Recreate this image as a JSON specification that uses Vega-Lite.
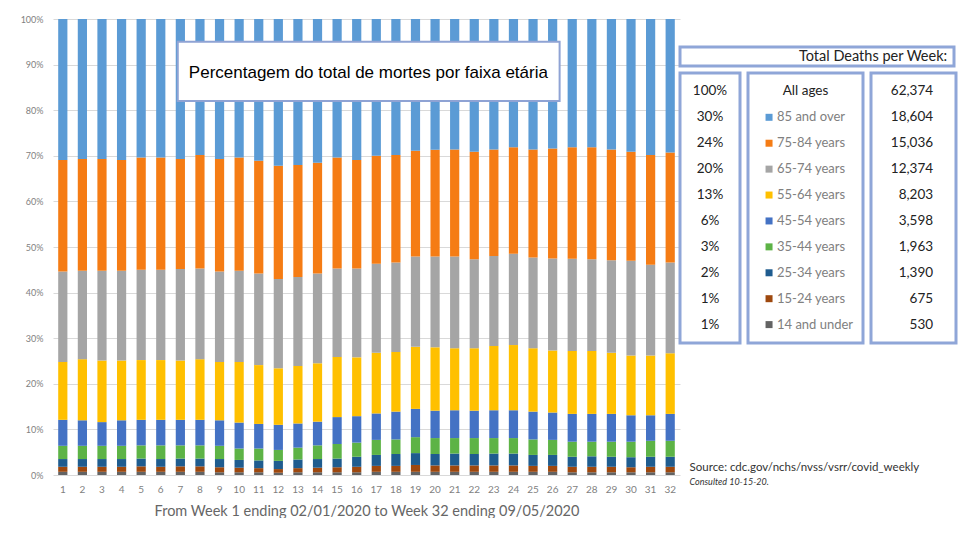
{
"$schema": "https://vega.github.io/schema/vega-lite/v6.json",
"padding": {"left": 20, "top": 15, "right": 0, "bottom": 0},
"background": "white",
"config": {"view": {"stroke": null}, "font": "Lato"},
"spacing": -2,
"datasets": {
"bars": [
{"w":1,"g":"14 and under","v":0.7},{"w":1,"g":"15-24 years","v":1.1},{"w":1,"g":"25-34 years","v":1.7},{"w":1,"g":"35-44 years","v":2.9},{"w":1,"g":"45-54 years","v":5.7},{"w":1,"g":"55-64 years","v":12.7},{"w":1,"g":"65-74 years","v":19.8},{"w":1,"g":"75-84 years","v":24.5},{"w":1,"g":"85 and over","v":30.9},
{"w":2,"g":"14 and under","v":0.7},{"w":2,"g":"15-24 years","v":1.1},{"w":2,"g":"25-34 years","v":1.7},{"w":2,"g":"35-44 years","v":2.9},{"w":2,"g":"45-54 years","v":5.6},{"w":2,"g":"55-64 years","v":13.4},{"w":2,"g":"65-74 years","v":19.4},{"w":2,"g":"75-84 years","v":24.5},{"w":2,"g":"85 and over","v":30.7},
{"w":3,"g":"14 and under","v":0.7},{"w":3,"g":"15-24 years","v":1.1},{"w":3,"g":"25-34 years","v":1.7},{"w":3,"g":"35-44 years","v":2.9},{"w":3,"g":"45-54 years","v":5.2},{"w":3,"g":"55-64 years","v":13.5},{"w":3,"g":"65-74 years","v":19.7},{"w":3,"g":"75-84 years","v":24.5},{"w":3,"g":"85 and over","v":30.7},
{"w":4,"g":"14 and under","v":0.7},{"w":4,"g":"15-24 years","v":1.1},{"w":4,"g":"25-34 years","v":1.7},{"w":4,"g":"35-44 years","v":2.9},{"w":4,"g":"45-54 years","v":5.6},{"w":4,"g":"55-64 years","v":13.1},{"w":4,"g":"65-74 years","v":19.7},{"w":4,"g":"75-84 years","v":24.3},{"w":4,"g":"85 and over","v":30.9},
{"w":5,"g":"14 and under","v":0.7},{"w":5,"g":"15-24 years","v":1.2},{"w":5,"g":"25-34 years","v":1.7},{"w":5,"g":"35-44 years","v":2.9},{"w":5,"g":"45-54 years","v":5.6},{"w":5,"g":"55-64 years","v":13.1},{"w":5,"g":"65-74 years","v":19.8},{"w":5,"g":"75-84 years","v":24.6},{"w":5,"g":"85 and over","v":30.4},
{"w":6,"g":"14 and under","v":0.7},{"w":6,"g":"15-24 years","v":1.1},{"w":6,"g":"25-34 years","v":1.7},{"w":6,"g":"35-44 years","v":3.0},{"w":6,"g":"45-54 years","v":5.6},{"w":6,"g":"55-64 years","v":13.1},{"w":6,"g":"65-74 years","v":19.8},{"w":6,"g":"75-84 years","v":24.6},{"w":6,"g":"85 and over","v":30.4},
{"w":7,"g":"14 and under","v":0.7},{"w":7,"g":"15-24 years","v":1.2},{"w":7,"g":"25-34 years","v":1.7},{"w":7,"g":"35-44 years","v":2.9},{"w":7,"g":"45-54 years","v":5.6},{"w":7,"g":"55-64 years","v":13.0},{"w":7,"g":"65-74 years","v":20.1},{"w":7,"g":"75-84 years","v":24.1},{"w":7,"g":"85 and over","v":30.7},
{"w":8,"g":"14 and under","v":0.7},{"w":8,"g":"15-24 years","v":1.2},{"w":8,"g":"25-34 years","v":1.7},{"w":8,"g":"35-44 years","v":2.9},{"w":8,"g":"45-54 years","v":5.6},{"w":8,"g":"55-64 years","v":13.3},{"w":8,"g":"65-74 years","v":19.9},{"w":8,"g":"75-84 years","v":24.9},{"w":8,"g":"85 and over","v":29.8},
{"w":9,"g":"14 and under","v":0.6},{"w":9,"g":"15-24 years","v":1.1},{"w":9,"g":"25-34 years","v":1.8},{"w":9,"g":"35-44 years","v":2.9},{"w":9,"g":"45-54 years","v":5.6},{"w":9,"g":"55-64 years","v":12.8},{"w":9,"g":"65-74 years","v":19.8},{"w":9,"g":"75-84 years","v":24.7},{"w":9,"g":"85 and over","v":30.7},
{"w":10,"g":"14 and under","v":0.6},{"w":10,"g":"15-24 years","v":1.0},{"w":10,"g":"25-34 years","v":1.7},{"w":10,"g":"35-44 years","v":2.5},{"w":10,"g":"45-54 years","v":5.7},{"w":10,"g":"55-64 years","v":13.3},{"w":10,"g":"65-74 years","v":20.0},{"w":10,"g":"75-84 years","v":24.8},{"w":10,"g":"85 and over","v":30.4},
{"w":11,"g":"14 and under","v":0.6},{"w":11,"g":"15-24 years","v":0.9},{"w":11,"g":"25-34 years","v":1.7},{"w":11,"g":"35-44 years","v":2.6},{"w":11,"g":"45-54 years","v":5.4},{"w":11,"g":"55-64 years","v":12.9},{"w":11,"g":"65-74 years","v":20.1},{"w":11,"g":"75-84 years","v":24.7},{"w":11,"g":"85 and over","v":31.1},
{"w":12,"g":"14 and under","v":0.5},{"w":12,"g":"15-24 years","v":0.8},{"w":12,"g":"25-34 years","v":1.8},{"w":12,"g":"35-44 years","v":2.4},{"w":12,"g":"45-54 years","v":5.5},{"w":12,"g":"55-64 years","v":12.4},{"w":12,"g":"65-74 years","v":19.6},{"w":12,"g":"75-84 years","v":24.8},{"w":12,"g":"85 and over","v":32.2},
{"w":13,"g":"14 and under","v":0.6},{"w":13,"g":"15-24 years","v":0.9},{"w":13,"g":"25-34 years","v":1.9},{"w":13,"g":"35-44 years","v":2.6},{"w":13,"g":"45-54 years","v":5.3},{"w":13,"g":"55-64 years","v":12.6},{"w":13,"g":"65-74 years","v":19.5},{"w":13,"g":"75-84 years","v":24.6},{"w":13,"g":"85 and over","v":32.0},
{"w":14,"g":"14 and under","v":0.6},{"w":14,"g":"15-24 years","v":1.0},{"w":14,"g":"25-34 years","v":1.9},{"w":14,"g":"35-44 years","v":3.0},{"w":14,"g":"45-54 years","v":5.2},{"w":14,"g":"55-64 years","v":12.8},{"w":14,"g":"65-74 years","v":19.7},{"w":14,"g":"75-84 years","v":24.3},{"w":14,"g":"85 and over","v":31.5},
{"w":15,"g":"14 and under","v":0.6},{"w":15,"g":"15-24 years","v":1.1},{"w":15,"g":"25-34 years","v":1.9},{"w":15,"g":"35-44 years","v":3.2},{"w":15,"g":"45-54 years","v":5.9},{"w":15,"g":"55-64 years","v":13.2},{"w":15,"g":"65-74 years","v":19.4},{"w":15,"g":"75-84 years","v":24.3},{"w":15,"g":"85 and over","v":30.4},
{"w":16,"g":"14 and under","v":0.6},{"w":16,"g":"15-24 years","v":1.2},{"w":16,"g":"25-34 years","v":2.2},{"w":16,"g":"35-44 years","v":3.1},{"w":16,"g":"45-54 years","v":5.8},{"w":16,"g":"55-64 years","v":12.9},{"w":16,"g":"65-74 years","v":19.5},{"w":16,"g":"75-84 years","v":23.8},{"w":16,"g":"85 and over","v":30.9},
{"w":17,"g":"14 and under","v":0.7},{"w":17,"g":"15-24 years","v":1.3},{"w":17,"g":"25-34 years","v":2.4},{"w":17,"g":"35-44 years","v":3.3},{"w":17,"g":"45-54 years","v":5.8},{"w":17,"g":"55-64 years","v":13.3},{"w":17,"g":"65-74 years","v":19.5},{"w":17,"g":"75-84 years","v":23.7},{"w":17,"g":"85 and over","v":30.0},
{"w":18,"g":"14 and under","v":0.7},{"w":18,"g":"15-24 years","v":1.3},{"w":18,"g":"25-34 years","v":2.6},{"w":18,"g":"35-44 years","v":3.2},{"w":18,"g":"45-54 years","v":6.1},{"w":18,"g":"55-64 years","v":13.1},{"w":18,"g":"65-74 years","v":19.6},{"w":18,"g":"75-84 years","v":23.6},{"w":18,"g":"85 and over","v":29.8},
{"w":19,"g":"14 and under","v":0.7},{"w":19,"g":"15-24 years","v":1.5},{"w":19,"g":"25-34 years","v":2.6},{"w":19,"g":"35-44 years","v":3.5},{"w":19,"g":"45-54 years","v":6.2},{"w":19,"g":"55-64 years","v":13.6},{"w":19,"g":"65-74 years","v":19.8},{"w":19,"g":"75-84 years","v":23.2},{"w":19,"g":"85 and over","v":28.9},
{"w":20,"g":"14 and under","v":0.7},{"w":20,"g":"15-24 years","v":1.4},{"w":20,"g":"25-34 years","v":2.5},{"w":20,"g":"35-44 years","v":3.5},{"w":20,"g":"45-54 years","v":6.0},{"w":20,"g":"55-64 years","v":13.9},{"w":20,"g":"65-74 years","v":19.9},{"w":20,"g":"75-84 years","v":23.4},{"w":20,"g":"85 and over","v":28.7},
{"w":21,"g":"14 and under","v":0.7},{"w":21,"g":"15-24 years","v":1.4},{"w":21,"g":"25-34 years","v":2.6},{"w":21,"g":"35-44 years","v":3.4},{"w":21,"g":"45-54 years","v":6.1},{"w":21,"g":"55-64 years","v":13.6},{"w":21,"g":"65-74 years","v":20.1},{"w":21,"g":"75-84 years","v":23.5},{"w":21,"g":"85 and over","v":28.6},
{"w":22,"g":"14 and under","v":0.7},{"w":22,"g":"15-24 years","v":1.4},{"w":22,"g":"25-34 years","v":2.5},{"w":22,"g":"35-44 years","v":3.5},{"w":22,"g":"45-54 years","v":6.0},{"w":22,"g":"55-64 years","v":13.7},{"w":22,"g":"65-74 years","v":19.5},{"w":22,"g":"75-84 years","v":23.6},{"w":22,"g":"85 and over","v":29.1},
{"w":23,"g":"14 and under","v":0.7},{"w":23,"g":"15-24 years","v":1.4},{"w":23,"g":"25-34 years","v":2.6},{"w":23,"g":"35-44 years","v":3.4},{"w":23,"g":"45-54 years","v":6.1},{"w":23,"g":"55-64 years","v":14.1},{"w":23,"g":"65-74 years","v":19.7},{"w":23,"g":"75-84 years","v":23.4},{"w":23,"g":"85 and over","v":28.6},
{"w":24,"g":"14 and under","v":0.7},{"w":24,"g":"15-24 years","v":1.4},{"w":24,"g":"25-34 years","v":2.6},{"w":24,"g":"35-44 years","v":3.4},{"w":24,"g":"45-54 years","v":6.1},{"w":24,"g":"55-64 years","v":14.3},{"w":24,"g":"65-74 years","v":20.0},{"w":24,"g":"75-84 years","v":23.4},{"w":24,"g":"85 and over","v":28.1},
{"w":25,"g":"14 and under","v":0.7},{"w":25,"g":"15-24 years","v":1.3},{"w":25,"g":"25-34 years","v":2.4},{"w":25,"g":"35-44 years","v":3.4},{"w":25,"g":"45-54 years","v":6.1},{"w":25,"g":"55-64 years","v":13.9},{"w":25,"g":"65-74 years","v":19.9},{"w":25,"g":"75-84 years","v":23.7},{"w":25,"g":"85 and over","v":28.6},
{"w":26,"g":"14 and under","v":0.7},{"w":26,"g":"15-24 years","v":1.3},{"w":26,"g":"25-34 years","v":2.4},{"w":26,"g":"35-44 years","v":3.3},{"w":26,"g":"45-54 years","v":6.0},{"w":26,"g":"55-64 years","v":13.6},{"w":26,"g":"65-74 years","v":20.2},{"w":26,"g":"75-84 years","v":24.1},{"w":26,"g":"85 and over","v":28.4},
{"w":27,"g":"14 and under","v":0.6},{"w":27,"g":"15-24 years","v":1.2},{"w":27,"g":"25-34 years","v":2.2},{"w":27,"g":"35-44 years","v":3.3},{"w":27,"g":"45-54 years","v":6.1},{"w":27,"g":"55-64 years","v":13.8},{"w":27,"g":"65-74 years","v":20.2},{"w":27,"g":"75-84 years","v":24.5},{"w":27,"g":"85 and over","v":28.1},
{"w":28,"g":"14 and under","v":0.6},{"w":28,"g":"15-24 years","v":1.2},{"w":28,"g":"25-34 years","v":2.3},{"w":28,"g":"35-44 years","v":3.2},{"w":28,"g":"45-54 years","v":6.1},{"w":28,"g":"55-64 years","v":13.8},{"w":28,"g":"65-74 years","v":20.1},{"w":28,"g":"75-84 years","v":24.6},{"w":28,"g":"85 and over","v":28.1},
{"w":29,"g":"14 and under","v":0.6},{"w":29,"g":"15-24 years","v":1.2},{"w":29,"g":"25-34 years","v":2.2},{"w":29,"g":"35-44 years","v":3.3},{"w":29,"g":"45-54 years","v":6.1},{"w":29,"g":"55-64 years","v":13.4},{"w":29,"g":"65-74 years","v":20.3},{"w":29,"g":"75-84 years","v":24.3},{"w":29,"g":"85 and over","v":28.6},
{"w":30,"g":"14 and under","v":0.6},{"w":30,"g":"15-24 years","v":1.1},{"w":30,"g":"25-34 years","v":2.2},{"w":30,"g":"35-44 years","v":3.4},{"w":30,"g":"45-54 years","v":5.8},{"w":30,"g":"55-64 years","v":13.1},{"w":30,"g":"65-74 years","v":20.8},{"w":30,"g":"75-84 years","v":23.9},{"w":30,"g":"85 and over","v":29.1},
{"w":31,"g":"14 and under","v":0.6},{"w":31,"g":"15-24 years","v":1.2},{"w":31,"g":"25-34 years","v":2.2},{"w":31,"g":"35-44 years","v":3.5},{"w":31,"g":"45-54 years","v":5.6},{"w":31,"g":"55-64 years","v":13.1},{"w":31,"g":"65-74 years","v":19.9},{"w":31,"g":"75-84 years","v":24.1},{"w":31,"g":"85 and over","v":29.8},
{"w":32,"g":"14 and under","v":0.6},{"w":32,"g":"15-24 years","v":1.2},{"w":32,"g":"25-34 years","v":2.2},{"w":32,"g":"35-44 years","v":3.5},{"w":32,"g":"45-54 years","v":5.9},{"w":32,"g":"55-64 years","v":13.3},{"w":32,"g":"65-74 years","v":19.9},{"w":32,"g":"75-84 years","v":24.1},{"w":32,"g":"85 and over","v":29.3}
],
"table": [
{"g":"All ages","pct":"100%","deaths":"62,374"},
{"g":"85 and over","pct":"30%","deaths":"18,604"},
{"g":"75-84 years","pct":"24%","deaths":"15,036"},
{"g":"65-74 years","pct":"20%","deaths":"12,374"},
{"g":"55-64 years","pct":"13%","deaths":"8,203"},
{"g":"45-54 years","pct":"6%","deaths":"3,598"},
{"g":"35-44 years","pct":"3%","deaths":"1,963"},
{"g":"25-34 years","pct":"2%","deaths":"1,390"},
{"g":"15-24 years","pct":"1%","deaths":"675"},
{"g":"14 and under","pct":"1%","deaths":"530"}
]
},
"hconcat": [
{
"width": 627,
"height": 456,
"resolve": {"scale": {"x": "independent"}},
"layer": [
{
"data": {"name": "bars"},
"mark": {"type": "bar"},
"encoding": {
"x": {"field": "w", "type": "ordinal", "scale": {"paddingInner": 0.53, "paddingOuter": 0.265},
"axis": {"title": "From Week 1 ending 02/01/2020 to Week 32 ending 09/05/2020", "labelAngle": 0, "labelFontSize": 10, "labelColor": "#7f7f7f", "ticks": false, "domain": false, "labelPadding": 9, "titleFontSize": 14.5, "titleColor": "#666666", "titleFontWeight": "normal", "titlePadding": 10}},
"y": {"field": "v", "type": "quantitative", "stack": "normalize", "scale": {"domain": [0, 1]},
"axis": {"format": ".0%", "values": [0,0.1,0.2,0.3,0.4,0.5,0.6,0.7,0.8,0.9,1], "title": null, "grid": true, "gridColor": "#d9d9d9", "ticks": false, "domain": false, "labelFontSize": 9, "labelColor": "#7f7f7f", "labelPadding": 10}},
"color": {"field": "g", "type": "nominal", "legend": null,
"scale": {"domain": ["14 and under","15-24 years","25-34 years","35-44 years","45-54 years","55-64 years","65-74 years","75-84 years","85 and over"],
"range": ["#636363","#9E480E","#1F5C8F","#5DB346","#4472C4","#FFC000","#A5A5A5","#F57C14","#5B9BD5"]}},
"order": {"field": "g", "sort": "ascending"}
}
},
{
"data": {"values": [{}]},
"mark": {"type": "rect", "fill": "white", "stroke": "#8fa3d4", "strokeWidth": 2},
"encoding": {
"x": {"datum": 0.199, "type": "quantitative", "scale": {"domain": [0, 1]}, "axis": null},
"x2": {"datum": 0.808},
"y": {"datum": 0.95, "type": "quantitative"},
"y2": {"datum": 0.82}
}
},
{
"data": {"values": [{}]},
"mark": {"type": "text", "text": "Percentagem do total de mortes por faixa etária", "font": "Liberation Sans", "fontSize": 17, "color": "#000000", "align": "center", "baseline": "middle"},
"encoding": {
"x": {"datum": 0.503, "type": "quantitative", "scale": {"domain": [0, 1]}, "axis": null},
"y": {"datum": 0.882, "type": "quantitative"}
}
}
]
},
{
"spacing": 3,
"vconcat": [
{
"width": 274, "height": 22.5,
"data": {"values": [{}]},
"mark": {"type": "text", "text": ""},
"encoding": {}
},
{
"width": 274, "height": 19,
"view": {"stroke": "#8fa6d8", "strokeWidth": 3},
"data": {"values": [{}]},
"mark": {"type": "text", "text": "Total Deaths per Week:", "align": "right", "baseline": "middle", "fontSize": 14.5, "color": "#222222"},
"encoding": {"x": {"datum": 0.975, "type": "quantitative", "scale": {"domain": [0, 1]}, "axis": null}}
},
{
"spacing": 4,
"hconcat": [
{
"width": 60, "height": 270,
"view": {"stroke": "#8fa6d8", "strokeWidth": 3},
"data": {"name": "table"},
"mark": {"type": "text", "align": "center", "baseline": "middle", "fontSize": 13.5, "color": "#222222"},
"encoding": {
"y": {"field": "g", "type": "nominal", "sort": null, "scale": {"type": "point", "padding": 0.71}, "axis": null},
"text": {"field": "pct"}
}
},
{
"width": 115, "height": 270,
"view": {"stroke": "#8fa6d8", "strokeWidth": 3},
"data": {"name": "table"},
"layer": [
{
"transform": [{"filter": {"field": "g", "equal": "All ages"}}],
"mark": {"type": "text", "align": "center", "baseline": "middle", "fontSize": 13.5, "color": "#222222"},
"encoding": {
"y": {"field": "g", "type": "nominal", "scale": {"type": "point", "padding": 0.71, "domain": ["All ages","85 and over","75-84 years","65-74 years","55-64 years","45-54 years","35-44 years","25-34 years","15-24 years","14 and under"]}, "axis": null},
"text": {"field": "g"}
}
},
{
"transform": [{"filter": {"not": {"field": "g", "equal": "All ages"}}}],
"mark": {"type": "square", "size": 49, "filled": true, "opacity": 1},
"encoding": {
"x": {"datum": 0.183, "type": "quantitative", "scale": {"domain": [0, 1]}, "axis": null},
"y": {"field": "g", "type": "nominal", "axis": null},
"color": {"field": "g", "type": "nominal", "legend": null,
"scale": {"domain": ["14 and under","15-24 years","25-34 years","35-44 years","45-54 years","55-64 years","65-74 years","75-84 years","85 and over"],
"range": ["#636363","#9E480E","#1F5C8F","#5DB346","#4472C4","#FFC000","#A5A5A5","#F57C14","#5B9BD5"]}}
}
},
{
"transform": [{"filter": {"not": {"field": "g", "equal": "All ages"}}}],
"mark": {"type": "text", "align": "left", "baseline": "middle", "fontSize": 13, "color": "#808080"},
"encoding": {
"x": {"datum": 0.252, "type": "quantitative"},
"y": {"field": "g", "type": "nominal", "axis": null},
"text": {"field": "g"}
}
}
]
},
{
"width": 85, "height": 270,
"view": {"stroke": "#8fa6d8", "strokeWidth": 3},
"data": {"name": "table"},
"mark": {"type": "text", "align": "right", "baseline": "middle", "fontSize": 13.5, "color": "#222222"},
"encoding": {
"x": {"datum": 0.73, "type": "quantitative", "scale": {"domain": [0, 1]}, "axis": null},
"y": {"field": "g", "type": "nominal", "sort": null, "scale": {"type": "point", "padding": 0.71}, "axis": null},
"text": {"field": "deaths"}
}
}
]
},
{
"width": 274, "height": 150,
"data": {"values": [{}]},
"layer": [
{
"mark": {"type": "text", "text": "Source: cdc.gov/nchs/nvss/vsrr/covid_weekly", "align": "left", "baseline": "middle", "fontSize": 11.5, "color": "#333333"},
"encoding": {
"x": {"datum": 0.035, "type": "quantitative", "scale": {"domain": [0, 1]}, "axis": null},
"y": {"datum": 0.202, "type": "quantitative", "scale": {"domain": [0, 1]}, "axis": null}
}
},
{
"mark": {"type": "text", "text": "Consulted 10-15-20.", "align": "left", "baseline": "middle", "fontSize": 9, "fontStyle": "italic", "color": "#333333"},
"encoding": {
"x": {"datum": 0.035, "type": "quantitative"},
"y": {"datum": 0.109, "type": "quantitative"}
}
}
]
}
]
}
]
}
